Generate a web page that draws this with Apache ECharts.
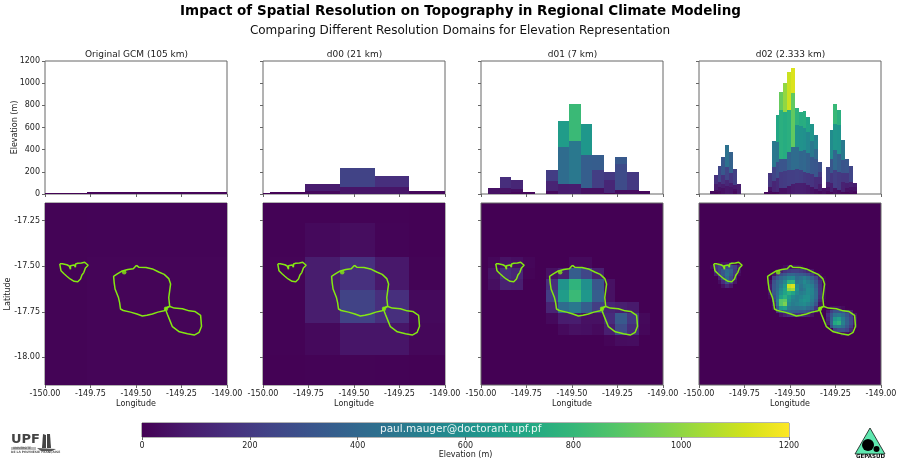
<!DOCTYPE html>
<html><head><meta charset="utf-8">
<style>html,body{margin:0;padding:0;background:#fff}#c{width:900px;height:465px}</style>
<script src="https://cdn.jsdelivr.net/npm/echarts@6/dist/echarts.min.js"></script>
</head><body><div id="c"></div>
<script>
const panelTitles = ['Original GCM (105 km)','d00 (21 km)','d01 (7 km)','d02 (2.333 km)'];
const elevationTicks = [0,200,400,600,800,1000,1200];
const lonTicks = [-150,-149.75,-149.5,-149.25,-149];
const latTicks = [-18,-17.75,-17.5,-17.25];
const latRange = [-18.152,-17.153];

// ---- Original GCM
const gcmLon = [-150,-149.77,-149];
const gcmLat = [-17.153,-17.45,-18.152];
const gcmGrid = [[8,9],[8,14]];
const gcmProfile = [[8,14]];

// ---- d00
const d00Lon = [-150,-149.96,-149.771,-149.579,-149.386,-149.198,-149];
const d00Lat = [-17.153,-17.265,-17.448,-17.628,-17.81,-17.99,-18.152];
const d00Grid = [
 [3,5,6,7,5,4],
 [3,6,25,38,9,4],
 [3,10,90,165,75,8],
 [3,5,90,235,160,25],
 [3,5,25,65,65,20],
 [3,3,5,8,6,4]];
const d00Profile = [
 [10,14,92,235,160,25],
 [0,6,25,65,65,20]];

// ---- d01
const d01Lon = [-149.96,-149.8965,-149.833,-149.7695,-149.706,-149.6425,-149.579,-149.5155,-149.452,-149.3885,-149.325,-149.2615,-149.198,-149.1345,-149.071];
const d01Lat = [-17.45,-17.511,-17.572,-17.633,-17.694,-17.755,-17.816,-17.877,-17.938];
const d01Grid = [
 [20,57,45,15,0,0,0,30,30,0,0,0,0,0],
 [57,157,125,10,0,50,100,350,250,100,0,0,0,0],
 [40,110,100,0,0,160,620,780,600,320,50,0,0,0],
 [0,0,0,0,0,215,660,812,634,353,50,0,0,0],
 [0,0,0,0,0,118,420,480,356,217,120,100,80,0],
 [0,0,0,0,0,27,88,93,50,50,150,332,196,24],
 [0,0,0,0,0,0,30,50,45,30,100,272,150,20],
 [0,0,0,0,0,0,0,0,0,0,12,36,39,0]];
const d01Profile = [
 [57,157,125,15,0,215,660,812,634,353,196,332,196,24],
 [0,57,45,0,0,118,420,480,356,217,125,272,39,0],
 [0,10,15,0,0,27,88,93,50,50,12,36,0,0]];

// ---- d02
const d02Lon = [-149.94,-149.9188,-149.8976,-149.8764,-149.8552,-149.834,-149.8128,-149.7916,-149.7704,-149.7492,-149.728,-149.7068,-149.6856,-149.6644,-149.6432,-149.622,-149.6008,-149.5796,-149.5584,-149.5372,-149.516,-149.4948,-149.4736,-149.4524,-149.4312,-149.41,-149.3888,-149.3676,-149.3464,-149.3252,-149.304,-149.2828,-149.2616,-149.2404,-149.2192,-149.198,-149.1768,-149.1556,-149.1344];
const d02Lat = [-17.475,-17.4953,-17.5156,-17.5359,-17.5562,-17.5765,-17.5968,-17.6171,-17.6374,-17.6577,-17.678,-17.6983,-17.7186,-17.7389,-17.7592,-17.7795,-17.7998,-17.8201,-17.8404,-17.8607,-17.881];
const d02Grid = [
 [0,0,20,50,60,50,30,0,0,0,0,0,0,0,0,0,0,0,0,0,0,0,0,0,0,0,0,0,0,0,0,0,0,0,0,0,0,0],
 [27,170,250,200,280,290,225,90,0,0,0,0,0,0,0,0,0,0,0,30,60,60,50,30,0,0,0,0,0,0,0,0,0,0,0,0,0,0],
 [0,160,240,330,420,375,200,60,0,0,0,0,0,0,0,0,0,40,100,170,200,220,220,200,170,120,60,0,0,0,0,0,0,0,0,0,0,0],
 [0,90,220,320,445,340,180,30,0,0,0,0,0,0,0,0,60,180,270,320,380,390,360,340,320,280,200,100,20,0,0,0,0,0,0,0,0,0],
 [0,0,110,260,400,280,120,0,0,0,0,0,0,0,0,0,220,330,400,460,540,560,420,450,510,440,360,250,100,20,0,0,0,0,0,0,0,0],
 [0,0,40,150,290,180,60,0,0,0,0,0,0,0,0,60,300,400,450,560,760,780,450,490,570,510,440,320,150,30,0,0,0,0,0,0,0,0],
 [0,0,0,50,120,70,0,0,0,0,0,0,0,0,0,90,320,400,500,640,1100,1137,560,460,530,560,510,360,170,40,0,0,0,0,0,0,0,0],
 [0,0,0,0,0,0,0,0,0,0,0,0,0,0,0,80,330,420,560,680,1000,1040,600,440,490,580,540,390,180,45,0,0,0,0,0,0,0,0],
 [0,0,0,0,0,0,0,0,0,0,0,0,0,0,0,60,320,440,600,700,760,700,560,500,530,580,540,410,180,45,0,0,0,0,0,0,0,0],
 [0,0,0,0,0,0,0,0,0,0,0,0,0,0,0,30,280,460,680,760,660,560,510,540,590,600,520,410,160,35,0,0,0,0,0,0,0,0],
 [0,0,0,0,0,0,0,0,0,0,0,0,0,0,0,0,220,520,880,900,620,520,510,580,620,600,500,370,120,20,0,0,0,0,0,0,0,0],
 [0,0,0,0,0,0,0,0,0,0,0,0,0,0,0,0,120,480,880,960,560,500,530,560,580,530,450,300,60,0,0,0,0,0,0,0,0,0],
 [0,0,0,0,0,0,0,0,0,0,0,0,0,0,0,0,40,350,640,680,480,460,450,460,480,420,360,180,0,0,0,40,60,50,30,0,0,0],
 [0,0,0,0,0,0,0,0,0,0,0,0,0,0,0,0,0,150,290,380,380,360,340,320,330,290,200,60,0,0,80,220,300,310,290,200,100,0],
 [0,0,0,0,0,0,0,0,0,0,0,0,0,0,0,0,0,0,60,110,150,170,180,150,130,90,50,0,0,0,150,320,450,480,420,320,220,60],
 [0,0,0,0,0,0,0,0,0,0,0,0,0,0,0,0,0,0,0,0,0,0,0,0,0,0,0,0,0,0,120,350,620,680,500,360,250,90],
 [0,0,0,0,0,0,0,0,0,0,0,0,0,0,0,0,0,0,0,0,0,0,0,0,0,0,0,0,0,0,80,370,720,770,520,370,260,90],
 [0,0,0,0,0,0,0,0,0,0,0,0,0,0,0,0,0,0,0,0,0,0,0,0,0,0,0,0,0,0,0,280,480,500,440,320,210,50],
 [0,0,0,0,0,0,0,0,0,0,0,0,0,0,0,0,0,0,0,0,0,0,0,0,0,0,0,0,0,0,0,0,220,280,290,240,130,0],
 [0,0,0,0,0,0,0,0,0,0,0,0,0,0,0,0,0,0,0,0,0,0,0,0,0,0,0,0,0,0,0,0,0,0,50,50,0,0]];
const d02Profile = [
 [27,170,250,330,445,375,225,90,0,0,0,0,0,0,20,186,480,710,920,1005,1105,1137,773,743,748,698,628,532,290,50,245,577,808,757,487,320,250,96],
 [0,90,110,170,245,186,80,0,0,0,0,0,0,0,0,66,245,470,757,740,757,908,620,610,600,560,480,410,200,0,110,320,630,620,310,190,110,60],
 [0,40,60,90,130,100,45,0,0,0,0,0,0,0,0,30,120,290,315,315,380,420,420,390,400,370,330,320,150,0,60,190,400,360,190,100,60,30],
 [0,15,30,50,72,66,30,0,0,0,0,0,0,0,0,10,20,140,200,210,220,220,230,220,200,190,180,150,90,0,30,100,220,200,110,50,40,15],
 [0,0,0,0,0,0,0,0,0,0,0,0,0,0,0,0,5,20,50,50,70,90,100,100,95,80,60,45,30,0,10,20,50,35,20,15,10,0]];

// ---- coastlines, [lon, lat]
const coastMoorea = [[-149.919,-17.487],[-149.905,-17.487],[-149.88,-17.492],[-149.867,-17.499],[-149.86,-17.516],[-149.86,-17.497],[-149.85,-17.487],[-149.84,-17.493],[-149.833,-17.505],[-149.832,-17.488],[-149.82,-17.484],[-149.8,-17.482],[-149.782,-17.478],[-149.775,-17.486],[-149.763,-17.495],[-149.778,-17.51],[-149.787,-17.535],[-149.797,-17.548],[-149.805,-17.57],[-149.82,-17.585],[-149.84,-17.583],[-149.862,-17.57],[-149.88,-17.555],[-149.897,-17.54],[-149.912,-17.525],[-149.919,-17.487]];
const coastNui = [[-149.497,-17.495],[-149.485,-17.505],[-149.445,-17.507],[-149.41,-17.515],[-149.375,-17.532],[-149.345,-17.545],[-149.32,-17.568],[-149.31,-17.598],[-149.315,-17.635],[-149.32,-17.672],[-149.315,-17.72],[-149.33,-17.728],[-149.34,-17.732],[-149.345,-17.745],[-149.38,-17.752],[-149.41,-17.762],[-149.44,-17.769],[-149.465,-17.773],[-149.495,-17.762],[-149.53,-17.752],[-149.57,-17.743],[-149.585,-17.735],[-149.59,-17.7],[-149.597,-17.67],[-149.615,-17.625],[-149.62,-17.59],[-149.623,-17.556],[-149.607,-17.545],[-149.58,-17.528],[-149.545,-17.518],[-149.515,-17.514],[-149.497,-17.495]];
const coastIti = [[-149.34,-17.732],[-149.317,-17.72],[-149.29,-17.73],[-149.245,-17.733],[-149.208,-17.745],[-149.177,-17.748],[-149.145,-17.77],[-149.14,-17.83],[-149.153,-17.863],[-149.18,-17.878],[-149.217,-17.871],[-149.262,-17.86],[-149.3,-17.832],[-149.313,-17.8],[-149.327,-17.765],[-149.34,-17.732]];
const coastKnots = [[-149.565,-17.533],[-149.335,-17.733]];

const viridisStops = ['#440154','#481a6c','#472f7d','#414487','#39568c','#31688e','#2a788e','#23888e','#1f988b','#22a884','#35b779','#54c568','#7ad151','#a5db36','#d2e21b','#fde725'];
const hex = h => [1,3,5].map(i => parseInt(h.slice(i,i+2),16));
function viridis(v){
  const t = Math.max(0,Math.min(1,v/1200))*(viridisStops.length-1);
  const i = Math.min(Math.floor(t),viridisStops.length-2), f = t-i;
  const a = hex(viridisStops[i]), b = hex(viridisStops[i+1]);
  return 'rgb('+a.map((x,j)=>Math.round(x+(b[j]-x)*f)).join(',')+')';
}

const panels = [
 {lon:gcmLon,lat:gcmLat,grid:gcmGrid,prof:gcmProfile},
 {lon:d00Lon,lat:d00Lat,grid:d00Grid,prof:d00Profile},
 {lon:d01Lon,lat:d01Lat,grid:d01Grid,prof:d01Profile},
 {lon:d02Lon,lat:d02Lat,grid:d02Grid,prof:d02Profile}];
const lefts = [45,263,481,699], W = 182;
const ink = '#222', line = '#666', F = 'DejaVu Sans';

function renderRect(params, api){
  const a = api.coord([api.value(0),api.value(3)]), b = api.coord([api.value(1),api.value(2)]);
  const x0 = Math.round(a[0]), x1 = Math.round(b[0]), y0 = Math.round(a[1]), y1 = Math.round(b[1]);
  return {type:'rect', shape:{x:x0,y:y0,width:x1-x0,height:Math.max(y1-y0,1)},
          style:{fill:viridis(api.value(4))}};
}
const dims = [{name:'x0',type:'number'},{name:'x1',type:'number'},{name:'y0',type:'number'},{name:'y1',type:'number'},{name:'v',type:'number'}];
const grids=[], xAxes=[], yAxes=[], series=[], titles=[];
const tickStyle = {length:3,lineStyle:{color:line,width:1}};
const labelStyle = {fontFamily:F,fontSize:8,color:ink};

panels.forEach((p,i)=>{
  grids.push({left:lefts[i],top:61,width:W,height:133,show:true,backgroundColor:'#fff',borderColor:line,borderWidth:1});
  xAxes.push({gridIndex:i,type:'value',min:-150,max:-149,interval:.25,axisLine:{show:false},splitLine:{show:false},axisTick:tickStyle,axisLabel:{show:false}});
  yAxes.push({gridIndex:i,type:'value',min:0,max:1200,interval:200,axisLine:{show:false},splitLine:{show:false},axisTick:tickStyle,
    axisLabel:Object.assign({show:i===0,margin:5,formatter:v=>String(v)},labelStyle),
    name:i===0?'Elevation (m)':'',nameLocation:'middle',nameGap:26,nameMoveOverlap:false,nameTextStyle:{fontFamily:F,fontSize:8,color:ink}});
  const rows=[];
  p.prof.forEach(layer=>layer.forEach((v,k)=>{ if(v>0) rows.push([p.lon[k],p.lon[k+1],0,v,v]); }));
  series.push({type:'custom',xAxisIndex:i,yAxisIndex:i,clip:true,dimensions:dims,encode:{x:[0,1],y:[2,3]},renderItem:renderRect,data:rows,animation:false,z:2});
});
panels.forEach((p,i)=>{
  const g=i+4;
  grids.push({left:lefts[i],top:203,width:W,height:182,show:true,backgroundColor:'#440154',borderColor:line,borderWidth:1});
  xAxes.push({gridIndex:g,type:'value',min:-150,max:-149,interval:.25,axisLine:{show:false},splitLine:{show:false},axisTick:tickStyle,
    axisLabel:Object.assign({margin:5,showMinLabel:true,showMaxLabel:true,hideOverlap:false,formatter:v=>v.toFixed(2),customValues:lonTicks},labelStyle),
    name:'Longitude',nameLocation:'middle',nameGap:15,nameMoveOverlap:false,nameTextStyle:{fontFamily:F,fontSize:8,color:ink}});
  yAxes.push({gridIndex:g,type:'value',min:latRange[0],max:latRange[1],axisLine:{show:false},splitLine:{show:false},
    axisTick:Object.assign({customValues:latTicks},tickStyle),
    axisLabel:Object.assign({show:i===0,margin:5,formatter:v=>v.toFixed(2),customValues:latTicks},labelStyle),
    name:i===0?'Latitude':'',nameLocation:'middle',nameGap:33,nameMoveOverlap:false,nameTextStyle:{fontFamily:F,fontSize:8,color:ink}});
  const rows=[];
  p.grid.forEach((r,j)=>r.forEach((v,k)=>{ if(v>0) rows.push([p.lon[k],p.lon[k+1],p.lat[j+1],p.lat[j],v]); }));
  series.push({type:'custom',xAxisIndex:g,yAxisIndex:g,clip:true,dimensions:dims,encode:{x:[0,1],y:[2,3]},renderItem:renderRect,data:rows,animation:false,z:2});
  [coastMoorea,coastNui,coastIti].forEach(c=>series.push({type:'line',xAxisIndex:g,yAxisIndex:g,data:c,showSymbol:false,silent:true,animation:false,z:4,lineStyle:{color:'#84e812',width:1.5}}));
  series.push({type:'scatter',xAxisIndex:g,yAxisIndex:g,data:coastKnots,symbolSize:4.5,silent:true,animation:false,z:5,itemStyle:{color:'#84e812'}});
  titles.push({text:panelTitles[i],left:lefts[i]+W/2-4.5,top:45,textAlign:'center',textStyle:{fontFamily:F,fontSize:9,fontWeight:'normal',color:ink}});
});
// colour bar
const colorbarGrid = {left:142,top:423,width:647,height:14,show:true,backgroundColor:'#fff',borderColor:line,borderWidth:1};
grids.push(colorbarGrid);
xAxes.push({gridIndex:8,type:'value',min:0,max:1200,interval:200,axisLine:{show:false},splitLine:{show:false},axisTick:tickStyle,
  axisLabel:Object.assign({margin:5,formatter:v=>String(v),customValues:elevationTicks},labelStyle),
  name:'Elevation (m)',nameLocation:'middle',nameGap:14,nameMoveOverlap:false,nameTextStyle:{fontFamily:F,fontSize:8,color:ink}});
yAxes.push({gridIndex:8,type:'value',min:0,max:1,show:false});
series.push({type:'custom',xAxisIndex:8,yAxisIndex:8,data:[[0,1200,0,1,0]],dimensions:dims,encode:{x:[0,1],y:[2,3]},animation:false,z:2,
  renderItem(params,api){
    const a=api.coord([api.value(0),api.value(3)]), b=api.coord([api.value(1),api.value(2)]);
    return {type:'rect',shape:{x:a[0],y:a[1],width:b[0]-a[0],height:b[1]-a[1]},style:{fill:new echarts.graphic.LinearGradient(0,0,1,0,
      viridisStops.map((c,i)=>({offset:i/(viridisStops.length-1),color:c})))}};
  }});
titles.push({text:'Impact of Spatial Resolution on Topography in Regional Climate Modeling',left:455.5,top:-1,textAlign:'center',textStyle:{fontFamily:F,fontSize:13.5,fontWeight:'bold',color:'#000'}});
titles.push({text:'Comparing Different Resolution Domains for Elevation Representation',left:455,top:20,textAlign:'center',textStyle:{fontFamily:F,fontSize:12,fontWeight:'normal',color:'#111'}});

const logos = [
  {type:'text',left:11,top:433,z:10,style:{text:'UPF',font:'bold 13px "DejaVu Sans"',fill:'#444'}},
  {type:'rect',z:10,shape:{x:11,y:447,width:25,height:3},style:{fill:'#bbb'}},
  {type:'text',left:13,top:447,z:11,style:{text:'UNIVERSITÉ',font:'3px "DejaVu Sans"',fill:'#333'}},
  {type:'text',left:11,top:451,z:10,style:{text:'DE LA POLYNÉSIE FRANÇAISE',font:'bold 3px "DejaVu Sans"',fill:'#555'}},
  {type:'polygon',z:10,shape:{points:[[43,434],[46,435],[46,448],[42,448]]},style:{fill:'#444'}},
  {type:'polygon',z:10,shape:{points:[[47,434],[50,434],[51,448],[47,448]]},style:{fill:'#444'}},
  {type:'polygon',z:10,shape:{points:[[37,448],[56,449],[52,451],[41,451]]},style:{fill:'#555'}},
  {type:'polygon',z:10,shape:{points:[[870,428],[885,454],[855,454]]},style:{fill:'#5fe8b0',stroke:'#111',lineWidth:0.8}},
  {type:'circle',z:11,shape:{cx:868,cy:445,r:6},style:{fill:'#000'}},
  {type:'circle',z:11,shape:{cx:876.5,cy:449,r:3},style:{fill:'#000'}},
  {type:'text',left:856,top:454,z:11,style:{text:'GEPASUD',font:'bold 5.5px "DejaVu Sans"',fill:'#111'}},
  {type:'text',left:380,top:423.5,z:12,style:{text:'paul.mauger@doctorant.upf.pf',font:'10.5px "DejaVu Sans"',fill:'rgba(255,255,255,0.9)'}}
];

const chart = echarts.init(document.getElementById('c'),null,{renderer:'canvas'});
chart.setOption({animation:false,backgroundColor:'#fff',title:titles,grid:grids,xAxis:xAxes,yAxis:yAxes,series:series,graphic:logos});
</script></body></html>
